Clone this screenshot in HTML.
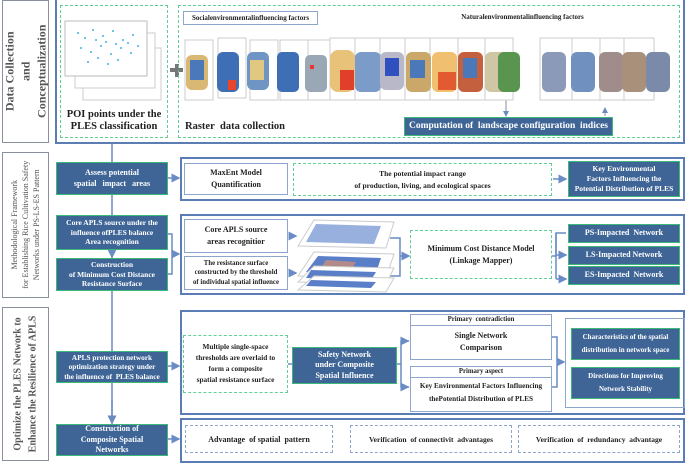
<!DOCTYPE html>
<html><head><meta charset="utf-8"><style>
*{margin:0;padding:0;box-sizing:border-box}
body{width:685px;height:461px;background:#fff;position:relative;overflow:hidden;font-family:"Liberation Serif",serif;font-weight:bold;color:#222}
.a{position:absolute}
.lab{position:absolute;border:1.5px solid #8a8fa0;display:flex;align-items:center;justify-content:center}
.lab div{transform:rotate(-90deg);white-space:nowrap;text-align:center;color:#555}
.cont{position:absolute;border:2px solid #5b7db5}
.db{position:absolute;background:#3f6597;border:1.5px solid #3cb878;color:#fff;display:flex;align-items:center;justify-content:center;text-align:center;font-size:8px;line-height:1.3;white-space:nowrap}
.wb{position:absolute;border:1.5px solid #8fa6cc;background:#fff;display:flex;align-items:center;justify-content:center;text-align:center;font-size:8px;line-height:1.5;white-space:nowrap}
.gd{position:absolute;border:1.2px dashed #5fcf95;display:flex;align-items:center;justify-content:center;text-align:center;font-size:8px;line-height:1.5;white-space:nowrap}
.bd{position:absolute;border:1.2px dashed #8fa6cc;display:flex;align-items:center;justify-content:center;text-align:center;font-size:8px;white-space:nowrap}
</style></head><body>
<div class="lab" style="left:2px;top:0;width:47px;height:143px"><div style="font-size:12px;line-height:1.35">Data Collection<br>and<br>Conceptualization</div></div>
<div class="lab" style="left:2px;top:152px;width:47px;height:146px"><div style="font-size:8px;line-height:1.4;font-weight:normal">Methodological Framework<br>for Establishing Rice Cultivation Safety<br>Networks under PS-LS-ES Pattern</div></div>
<div class="lab" style="left:2px;top:307px;width:47px;height:154px"><div style="font-size:10px;line-height:1.5">Optimize the PLES Network to<br>Enhance the Resilience of APLS</div></div>

<svg class="a" style="left:0;top:0" width="685" height="461">
<defs><marker id="m" markerWidth="6" markerHeight="6" refX="5" refY="3" orient="auto"><path d="M0,0L6,3L0,6z" fill="#6a8cc4"/></marker></defs>
<g stroke="#6a8cc4" stroke-width="1.5" fill="none">
<line x1="112" y1="144" x2="112" y2="424"/>
<line x1="112" y1="249" x2="112" y2="257" marker-end="url(#m)"/>
<line x1="112" y1="400" x2="112" y2="423" marker-end="url(#m)"/>
<line x1="168" y1="178" x2="179" y2="178" marker-end="url(#m)"/>
<polyline points="168,234 172,234 172,274 168,274"/>
<line x1="172" y1="254" x2="179" y2="254" marker-end="url(#m)"/>
<line x1="168" y1="366" x2="179" y2="366" marker-end="url(#m)"/>
<line x1="168" y1="439" x2="179" y2="439" marker-end="url(#m)"/>
<line x1="553" y1="179" x2="566" y2="179" marker-end="url(#m)"/>
<line x1="290" y1="236" x2="296" y2="236" marker-end="url(#m)"/>
<line x1="290" y1="273" x2="296" y2="273" marker-end="url(#m)"/>
<polyline points="390,238 400,238 400,276 390,276"/>
<line x1="400" y1="256" x2="409" y2="256" marker-end="url(#m)"/>
<polyline points="552,256 556,256 556,233 566,233"/>
<line x1="556" y1="233" x2="556" y2="279"/>
<line x1="556" y1="255" x2="566" y2="255" marker-end="url(#m)"/>
<line x1="556" y1="279" x2="566" y2="279" marker-end="url(#m)"/>
<line x1="397" y1="364" x2="401" y2="364"/>
<polyline points="409,341 401,341 401,387 409,387"/>
<line x1="402" y1="341" x2="408" y2="341" marker-end="url(#m)"/>
<line x1="402" y1="387" x2="408" y2="387" marker-end="url(#m)"/>
<polyline points="552,337 557,337 557,387 552,387"/>
<line x1="557" y1="362" x2="564" y2="362" marker-end="url(#m)"/>
<line x1="288" y1="364" x2="292" y2="364"/>
<line x1="506" y1="95" x2="506" y2="116" marker-end="url(#m)" stroke="#8a8aa8" stroke-width="1"/>
<line x1="605" y1="116" x2="605" y2="108" marker-end="url(#m)" stroke="#8a8aa8" stroke-width="1"/>
</g>
</svg>

<div class="cont" style="left:55px;top:-2px;width:630px;height:146px"></div>
<div class="gd" style="left:60px;top:5px;width:108px;height:133px;align-items:flex-end;font-size:10.5px;line-height:1.2;padding-bottom:3px">POI points under the<br>PLES classification</div>
<svg class="a" style="left:63px;top:18px" width="100" height="85">
<rect x="20" y="30" width="78" height="52" fill="#fff" stroke="#ccc"/>
<rect x="12" y="15" width="80" height="55" fill="#fff" stroke="#ccc"/>
<rect x="2" y="3" width="82" height="55" fill="#fff" stroke="#bbb"/>
<g fill="#3fb3e0">
<circle cx="15" cy="15" r="1"/><circle cx="22" cy="20" r="1"/><circle cx="30" cy="12" r="1"/><circle cx="40" cy="18" r="1"/><circle cx="50" cy="13" r="1"/><circle cx="60" cy="22" r="1"/><circle cx="70" cy="17" r="1"/><circle cx="18" cy="30" r="1"/><circle cx="28" cy="34" r="1"/><circle cx="38" cy="28" r="1"/><circle cx="48" cy="36" r="1"/><circle cx="58" cy="30" r="1"/><circle cx="68" cy="35" r="1"/><circle cx="25" cy="44" r="1"/><circle cx="35" cy="40" r="1"/><circle cx="45" cy="46" r="1"/><circle cx="55" cy="42" r="1"/><circle cx="65" cy="25" r="1"/><circle cx="75" cy="28" r="1"/><circle cx="33" cy="22" r="1"/><circle cx="43" cy="24" r="1"/><circle cx="53" cy="26" r="1"/>
</g></svg>
<div class="a" style="left:170px;top:68px;width:13px;height:4px;background:#777"></div>
<div class="a" style="left:174.5px;top:63.5px;width:4px;height:13px;background:#777"></div>
<div class="gd" style="left:178px;top:5px;width:502px;height:133px"></div>
<div class="wb" style="left:183px;top:11px;width:135px;height:14px;font-size:7px">Socialenvironmentalinfluencing factors</div>
<div class="a" style="left:420px;top:13px;width:205px;text-align:center;font-size:7px;white-space:nowrap">Naturalenvironmentalinfluencing factors</div>
<div class="a" style="left:185px;top:121px;font-size:10.5px;white-space:nowrap">Raster&nbsp; data collection</div>
<svg class="a" style="left:180px;top:30px" width="500" height="85">
<g stroke="#ccc" fill="#fff">
<rect x="5" y="10" width="28" height="60"/><rect x="38" y="8" width="28" height="60"/><rect x="70" y="10" width="28" height="60"/><rect x="100" y="10" width="28" height="60"/><rect x="128" y="10" width="28" height="60"/><rect x="150" y="8" width="30" height="62"/>
<rect x="175" y="8" width="30" height="62"/><rect x="200" y="8" width="28" height="62"/><rect x="225" y="8" width="30" height="62"/><rect x="250" y="8" width="30" height="62"/><rect x="278" y="8" width="30" height="62"/><rect x="305" y="8" width="28" height="62"/>
<rect x="360" y="8" width="32" height="62"/><rect x="392" y="8" width="30" height="62"/><rect x="420" y="8" width="30" height="62"/><rect x="444" y="8" width="30" height="62"/>
</g>
<rect x="6" y="25" width="22" height="35" rx="6" fill="#d9b873"/><rect x="10" y="30" width="14" height="20" fill="#4a78b8"/>
<rect x="37" y="22" width="22" height="40" rx="6" fill="#3e6fb6"/><rect x="48" y="50" width="8" height="10" fill="#e8452a"/>
<rect x="67" y="22" width="22" height="38" rx="6" fill="#6f95c4"/><rect x="70" y="30" width="14" height="20" fill="#e0c880"/>
<rect x="97" y="22" width="22" height="40" rx="5" fill="#3e6fb6"/>
<rect x="125" y="25" width="22" height="37" rx="5" fill="#9aa8b5"/><rect x="130" y="35" width="4" height="4" fill="#e33"/>
<rect x="150" y="20" width="25" height="42" rx="8" fill="#e9c27a"/><rect x="160" y="40" width="14" height="20" fill="#e0402a"/>
<rect x="175" y="22" width="26" height="40" rx="6" fill="#7b9cc8"/>
<rect x="200" y="22" width="24" height="38" rx="6" fill="#b8b8c8"/><rect x="205" y="28" width="14" height="18" fill="#3050c0"/>
<rect x="226" y="22" width="25" height="40" rx="6" fill="#c9a86a"/><rect x="230" y="30" width="15" height="18" fill="#4a78b8"/>
<rect x="252" y="22" width="25" height="40" rx="6" fill="#f0c070"/><rect x="258" y="42" width="18" height="18" fill="#e25a30"/>
<rect x="278" y="22" width="25" height="40" rx="6" fill="#c4603e"/><rect x="283" y="28" width="14" height="20" fill="#4a78b8"/>
<rect x="305" y="22" width="25" height="40" rx="6" fill="#cfc6a5"/>
<rect x="318" y="22" width="22" height="40" rx="6" fill="#5a9550"/>
<rect x="362" y="22" width="24" height="40" rx="6" fill="#8a9ab8"/>
<rect x="391" y="22" width="24" height="40" rx="6" fill="#7090c0"/>
<rect x="419" y="22" width="24" height="40" rx="6" fill="#a08c8a"/>
<rect x="442" y="22" width="24" height="40" rx="6" fill="#a9907a"/>
<rect x="466" y="22" width="24" height="40" rx="6" fill="#7b8aa8"/>
</svg>
<div class="db" style="left:404px;top:117px;width:209px;height:19px;font-size:9.5px">Computation of&nbsp; landscape configuration&nbsp; indices</div>

<div class="db" style="left:56px;top:162px;width:112px;height:33px">Assess potential<br>spatial&nbsp;&nbsp; impact&nbsp;&nbsp; areas</div>
<div class="cont" style="left:180px;top:157px;width:505px;height:44px"></div>
<div class="wb" style="left:184px;top:163px;width:104px;height:32px">MaxEnt Model<br>Quantification</div>
<div class="gd" style="left:293px;top:163px;width:259px;height:33px;font-size:7.5px">The potential impact range<br>of production, living, and ecological spaces</div>
<div class="db" style="left:568px;top:161px;width:112px;height:36px;line-height:1.35;font-size:7.5px">Key Environmental<br>Factors Influencing the<br>Potential Distribution of PLES</div>

<div class="db" style="left:56px;top:215px;width:112px;height:35px;font-size:7.5px">Core APLS source under the<br>influence ofPLES balance<br>Area recognition</div>
<div class="db" style="left:56px;top:258px;width:112px;height:33px;font-size:7.5px">Construction<br>of Minimum Cost Distance<br>Resistance Surface</div>
<div class="cont" style="left:180px;top:214px;width:505px;height:81px"></div>
<div class="wb" style="left:184px;top:219px;width:104px;height:34px">Core APLS source<br>areas recognitior</div>
<div class="wb" style="left:184px;top:256px;width:104px;height:34px;font-size:6.8px;line-height:1.4">The resistance surface<br>constructed by the threshold<br>of individual spatial influence</div>
<svg class="a" style="left:296px;top:218px" width="100" height="75">
<polygon points="18,2 98,4 90,30 2,28" fill="#fff" stroke="#ccc"/>
<polygon points="20,6 85,8 78,26 10,24" fill="#6b8fd0" opacity="0.7"/>
<polygon points="18,34 98,36 90,60 2,58" fill="#fff" stroke="#ccc"/>
<polygon points="22,38 85,40 80,55 10,54" fill="#5a7fc8"/><polygon points="30,42 60,44 55,52 25,50" fill="#d89070" opacity="0.7"/>
<polygon points="18,48 98,50 90,66 2,64" fill="#fff" stroke="#ccc"/>
<polygon points="15,52 80,54 75,62 10,60" fill="#5a7fc8"/>
<polygon points="18,58 98,60 90,74 2,72" fill="#fff" stroke="#ccc"/>
<polygon points="15,62 80,64 75,70 10,68" fill="#5a7fc8"/>
</svg>
<div class="gd" style="left:410px;top:230px;width:142px;height:49px">Minimum Cost Distance Model<br>(Linkage Mapper)</div>
<div class="db" style="left:568px;top:224px;width:112px;height:19px">PS-Impacted&nbsp; Network</div>
<div class="db" style="left:568px;top:246px;width:112px;height:19px">LS-Impacted Network</div>
<div class="db" style="left:568px;top:266px;width:112px;height:19px">ES-Impacted&nbsp; Network</div>

<div class="db" style="left:56px;top:351px;width:112px;height:32px;font-size:7.3px">APLS protection network<br>optimization strategy under<br>the influence of&nbsp; PLES balance</div>
<div class="cont" style="left:180px;top:310px;width:505px;height:105px"></div>
<div class="gd" style="left:183px;top:335px;width:105px;height:58px;font-size:7.3px">Multiple single-space<br>thresholds are overlaid to<br>form a composite<br>spatial resistance surface</div>
<div class="db" style="left:292px;top:347px;width:105px;height:37px">Safety Network<br>under Composite<br>Spatial Influence</div>
<div class="wb" style="left:410px;top:314px;width:142px;height:46px;flex-direction:column;justify-content:flex-start"><div style="width:100%;border-bottom:1.2px solid #8fa6cc;font-size:6.8px;line-height:10px">Primary&nbsp; contradiction</div><div style="margin-top:4px">Single Network<br>Comparison</div></div>
<div class="wb" style="left:410px;top:366px;width:142px;height:46px;flex-direction:column;justify-content:flex-start"><div style="width:100%;border-bottom:1.2px solid #8fa6cc;font-size:6.8px;line-height:10px">Primary aspect</div><div style="margin-top:2px;font-size:7.2px;line-height:1.8">Key Environmental Factors Influencing<br>thePotential Distribution of PLES</div></div>
<div class="a" style="left:565px;top:318px;width:120px;height:90px;border:1.5px solid #8fa6cc"></div>
<div class="db" style="left:571px;top:328px;width:109px;height:32px;font-size:7px;line-height:1.8">Characteristics of the spatial<br>distribution in network space</div>
<div class="db" style="left:571px;top:367px;width:109px;height:32px;font-size:7px;line-height:1.8">Directions for Improving<br>Network Stability</div>

<div class="db" style="left:56px;top:424px;width:112px;height:32px">Construction of<br>Composite Spatial<br>Networks</div>
<div class="cont" style="left:180px;top:418px;width:505px;height:45px"></div>
<div class="bd" style="left:185px;top:425px;width:148px;height:28px">Advantage&nbsp; of spatial&nbsp; pattern</div>
<div class="bd" style="left:350px;top:425px;width:162px;height:28px;font-size:7.5px">Verification&nbsp; of connectivit&nbsp; advantages</div>
<div class="bd" style="left:518px;top:425px;width:162px;height:28px;font-size:7.5px">Verification&nbsp; of&nbsp; redundancy&nbsp; advantage</div>
</body></html>
